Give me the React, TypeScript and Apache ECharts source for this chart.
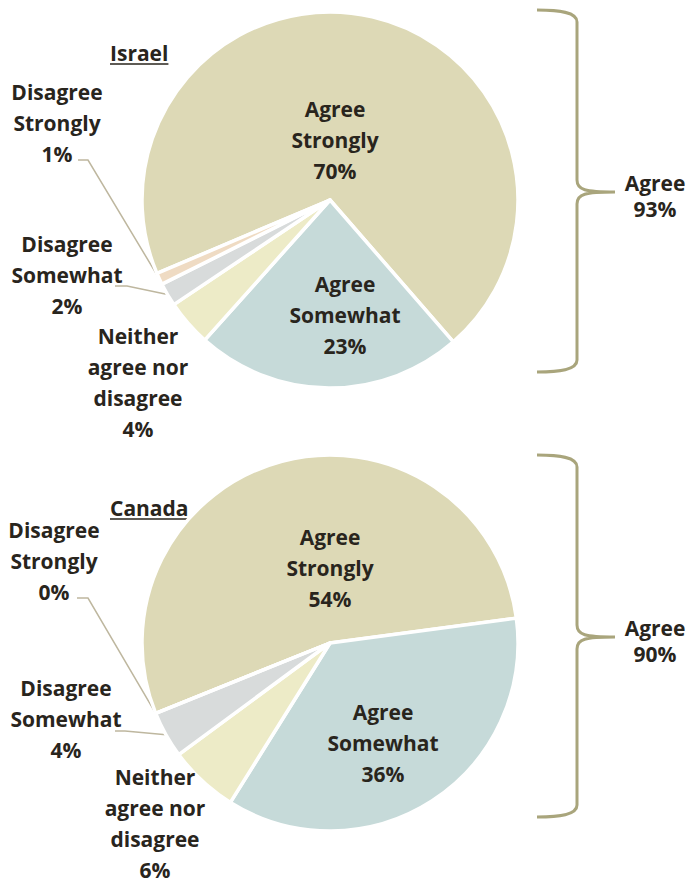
import React, { useEffect, useRef } from 'react';
import * as echarts from 'echarts';

// ---------- data ----------
const categories = [
  'Agree\nStrongly',
  'Agree\nSomewhat',
  'Neither\nagree nor\ndisagree',
  'Disagree\nSomewhat',
  'Disagree\nStrongly',
];
const countries = ['Israel', 'Canada'];
const israelValues = [70, 23, 4, 2, 1];
const canadaValues = [54, 36, 6, 4, 0];
const agreeTotals = [93, 90];
const seriesValues = [israelValues, canadaValues];

// ---------- styles ----------
const sliceColors = ['#DDD9B6', '#C6DAD9', '#EDEBC7', '#D8DBDB', '#EFDBC3'];
const textColor = '#29251D';
const braceColor = '#A9A57C';
const leaderColor = '#BEB79F';
const FONT = '"Open Sans", "Liberation Sans", sans-serif';
const FONT_SIZE = 21;

// ---------- layout ----------
const RADIUS = 188;
const pieLayout = [
  { center: [330, 200], startAngle: 203, title: [110, 53], brace: [537, 10], total: [655, 196] },
  { center: [330, 643], startAngle: 202, title: [110, 508], brace: [537, 455], total: [655, 641] },
];
// centre of each label block, per series / category
const labelPos = [
  [[335, 140], [345, 315], [138, 382], [67, 275], [57, 123]],
  [[330, 568], [383, 743], [155, 823], [66, 719], [54, 561]],
];
// leader lines: [point at text, elbow] (null = no line)
const leaderPts: (number[][] | null)[][] = [
  [null, null, null, [[115, 286], [127, 286]], [[78, 160], [88, 160]]],
  [null, null, null, [[115, 731], [125, 731]], [[77, 598], [88, 598]]],
];

const BRACE_D =
  'M0,0 C22,0 40,2 40,12 L40,170 C40,180 48,182 78,182 C48,182 40,184 40,194 L40,350 C40,360 22,362 0,362';
echarts.graphic.registerShape('brace', echarts.graphic.extendPath(BRACE_D, {}) as any);

function measure(text: string, font: string) {
  const ctx = document.createElement('canvas').getContext('2d')!;
  ctx.font = font;
  return ctx.measureText(text).width;
}

function sliceEdge(s: number, idx: number) {
  const vals = seriesValues[s];
  const total = vals.reduce((a, b) => a + b, 0);
  let cum = 0;
  for (let i = 0; i < idx; i++) cum += vals[i];
  const mid = pieLayout[s].startAngle - ((cum + vals[idx] / 2) / total) * 360;
  const rad = (mid * Math.PI) / 180;
  const [cx, cy] = pieLayout[s].center;
  return [cx + RADIUS * Math.cos(rad), cy - RADIUS * Math.sin(rad)];
}

function buildOption() {
  const series = seriesValues.map((vals, s) => ({
    type: 'pie',
    name: countries[s],
    center: pieLayout[s].center,
    radius: RADIUS,
    startAngle: pieLayout[s].startAngle,
    clockwise: true,
    avoidLabelOverlap: false,
    silent: true,
    itemStyle: { borderColor: '#ffffff', borderWidth: 3.5 },
    label: {
      show: true,
      formatter: (p: any) => `${p.name}\n${p.value}%`,
      color: textColor,
      fontFamily: FONT,
      fontWeight: 'bold',
      fontSize: FONT_SIZE,
      lineHeight: 31,
      align: 'center',
    },
    labelLine: { show: false, smooth: false, lineStyle: { color: leaderColor, width: 1.5 } },
    labelLayout: (params: any) => {
      const i = params.dataIndex;
      const pos = labelPos[s][i];
      const out: any = { x: pos[0], y: pos[1], align: 'center', verticalAlign: 'middle' };
      const lp = leaderPts[s][i];
      if (lp) out.labelLinePoints = [sliceEdge(s, i), lp[1], lp[0]];
      return out;
    },
    data: categories.map((name, i) => ({
      name,
      value: vals[i],
      itemStyle: { color: sliceColors[i] },
      label: { position: i < 2 ? 'inside' : 'outside' },
      labelLine: { show: leaderPts[s][i] != null },
    })),
  }));

  const titleFont = `bold ${FONT_SIZE}px "Open Sans"`;
  const graphic: any[] = [];
  countries.forEach((c, s) => {
    const L = pieLayout[s];
    const w = measure(c, titleFont);
    graphic.push({
      type: 'text',
      x: L.title[0],
      y: L.title[1],
      style: {
        text: c,
        fill: textColor,
        fontFamily: FONT,
        fontWeight: 'bold',
        fontSize: FONT_SIZE,
        align: 'left',
        verticalAlign: 'middle',
      },
    });
    graphic.push({
      type: 'line',
      shape: { x1: L.title[0], y1: L.title[1] + 11, x2: L.title[0] + w, y2: L.title[1] + 11 },
      style: { stroke: textColor, lineWidth: 1.5 },
    });
    graphic.push({
      type: 'brace',
      x: L.brace[0],
      y: L.brace[1],
      style: { fill: 'none', stroke: braceColor, lineWidth: 3 },
    });
    graphic.push({
      type: 'text',
      x: L.total[0],
      y: L.total[1],
      style: {
        text: `Agree\n${agreeTotals[s]}%`,
        fill: textColor,
        fontFamily: FONT,
        fontWeight: 'bold',
        fontSize: FONT_SIZE,
        lineHeight: 26,
        align: 'center',
        verticalAlign: 'middle',
      },
    });
  });

  return {
    animation: false,
    backgroundColor: '#ffffff',
    series,
    graphic,
  };
}

export default function App() {
  const ref = useRef<HTMLDivElement>(null);
  useEffect(() => {
    const chart = echarts.init(ref.current!, null, { renderer: 'svg' });
    chart.setOption(buildOption() as any);
    return () => chart.dispose();
  }, []);
  return (
    <div
      ref={ref}
      style={{ position: 'absolute', left: 0, top: 0, width: 694, height: 885 }}
    />
  );
}
